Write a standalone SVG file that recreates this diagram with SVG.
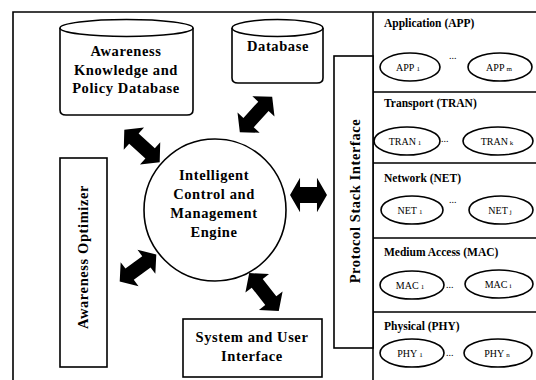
<svg xmlns="http://www.w3.org/2000/svg" width="536" height="380" viewBox="0 0 536 380">
<style>
.ln{fill:none;stroke:#000;stroke-width:1.6}
.bx{fill:#fff;stroke:#000;stroke-width:1.6}
.t{font-family:"Liberation Serif","Times New Roman",serif;font-weight:bold;fill:#000}
.big{font-size:14.5px;letter-spacing:0.6px}
.lay{font-size:11.5px}
.el{font-size:10px;font-weight:normal}
.sub{font-size:7px}
.ar{fill:#000}
</style>
<defs>
<path id="arr" d="M-24,0 L-11,-15 L-11,-7 L11,-7 L11,-15 L24,0 L11,15 L11,7 L-11,7 L-11,15 Z"/>
</defs>
<rect width="536" height="380" fill="#fff"/>
<g id="frame">
<path class="ln" d="M13,380 L13,12 L536,12"/>
<path class="ln" d="M373,12 L373,380"/>
</g>
<g id="awareness-db">
<path class="bx" d="M60,28 L60,110 Q60,115 66,115 L187,115 Q193,115 193,110 L193,28"/>
<ellipse class="bx" cx="126.5" cy="28" rx="66.5" ry="8.5"/>
<text class="t big" text-anchor="middle" x="126" y="56">Awareness</text>
<text class="t big" text-anchor="middle" x="126" y="75">Knowledge and</text>
<text class="t big" text-anchor="middle" x="126" y="93">Policy Database</text>
</g>
<g id="database">
<path class="bx" d="M232,28 L232,78 Q232,83 238,83 L317,83 Q323,83 323,78 L323,28"/>
<ellipse class="bx" cx="277.5" cy="28" rx="45.5" ry="8.5"/>
<text class="t big" text-anchor="middle" x="278" y="51">Database</text>
</g>
<g id="engine">
<circle class="bx" cx="215" cy="210" r="71"/>
<text class="t big" text-anchor="middle" x="214" y="180">Intelligent</text>
<text class="t big" text-anchor="middle" x="214" y="199">Control and</text>
<text class="t big" text-anchor="middle" x="214" y="218">Management</text>
<text class="t big" text-anchor="middle" x="214" y="237">Engine</text>
</g>
<g id="optimizer">
<rect class="bx" x="60" y="158" width="47" height="209"/>
<text class="t big" text-anchor="middle" transform="translate(88,257) rotate(-90)">Awareness Optimizer</text>
</g>
<g id="system-ui">
<rect class="bx" x="183" y="319" width="139" height="58"/>
<text class="t big" text-anchor="middle" x="252" y="342">System and User</text>
<text class="t big" text-anchor="middle" x="252" y="361">Interface</text>
</g>
<g id="protocol-stack">
<rect class="bx" x="334" y="56" width="39" height="292"/>
<text class="t big" text-anchor="middle" transform="translate(360,201) rotate(-90)">Protocol Stack Interface</text>
</g>
<g id="layers">
<path class="ln" d="M373,92 L536,92 M373,163 L536,163 M373,238 L536,238 M373,312 L536,312"/>
</g>
<g id="app">
<text class="t lay" x="384" y="27">Application (APP)</text>
<ellipse class="ln" cx="410" cy="67" rx="30" ry="14"/>
<ellipse class="ln" cx="500" cy="67" rx="32" ry="14"/>
<text class="t el" text-anchor="middle" x="408" y="71">APP<tspan class="sub" dx="2">1</tspan></text>
<text class="t el" text-anchor="middle" x="499" y="71">APP<tspan class="sub" dx="2">m</tspan></text>
<text class="t el" x="449" y="59">...</text>
</g>
<g id="tran">
<text class="t lay" x="384" y="107">Transport (TRAN)</text>
<ellipse class="ln" cx="407" cy="141" rx="33" ry="14"/>
<ellipse class="ln" cx="498" cy="141" rx="35" ry="14"/>
<text class="t el" text-anchor="middle" x="405" y="145">TRAN<tspan class="sub" dx="2">1</tspan></text>
<text class="t el" text-anchor="middle" x="497" y="145">TRAN<tspan class="sub" dx="2">k</tspan></text>
<text class="t el" x="441" y="142">...</text>
</g>
<g id="net">
<text class="t lay" x="384" y="182">Network (NET)</text>
<ellipse class="ln" cx="412" cy="210" rx="31" ry="14"/>
<ellipse class="ln" cx="501" cy="210" rx="32" ry="14"/>
<text class="t el" text-anchor="middle" x="410" y="214">NET<tspan class="sub" dx="2">1</tspan></text>
<text class="t el" text-anchor="middle" x="500" y="214">NET<tspan class="sub" dx="2">j</tspan></text>
<text class="t el" x="449" y="203">...</text>
</g>
<g id="mac">
<text class="t lay" x="384" y="256">Medium Access (MAC)</text>
<ellipse class="ln" cx="412" cy="285" rx="32" ry="14"/>
<ellipse class="ln" cx="499" cy="284" rx="34" ry="14"/>
<text class="t el" text-anchor="middle" x="410" y="289">MAC<tspan class="sub" dx="2">1</tspan></text>
<text class="t el" text-anchor="middle" x="498" y="288">MAC<tspan class="sub" dx="2">i</tspan></text>
<text class="t el" x="446" y="288">...</text>
</g>
<g id="phy">
<text class="t lay" x="384" y="330">Physical (PHY)</text>
<ellipse class="ln" cx="412" cy="353" rx="32" ry="14"/>
<ellipse class="ln" cx="498" cy="353" rx="34" ry="14"/>
<text class="t el" text-anchor="middle" x="410" y="357">PHY<tspan class="sub" dx="2">1</tspan></text>
<text class="t el" text-anchor="middle" x="497" y="357">PHY<tspan class="sub" dx="2">n</tspan></text>
<text class="t el" x="446" y="356">...</text>
</g>
<g id="connectors">
<use href="#arr" class="ar" transform="translate(142,146) rotate(42.5)"/>
<use href="#arr" class="ar" transform="translate(256,114.5) rotate(-47.6)"/>
<use href="#arr" class="ar" transform="translate(308.5,195) scale(0.77,1.15)"/>
<use href="#arr" class="ar" transform="translate(138,268) rotate(-36.6) scale(0.95,1)"/>
<use href="#arr" class="ar" transform="translate(264,292) rotate(52)"/>
</g>
</svg>
